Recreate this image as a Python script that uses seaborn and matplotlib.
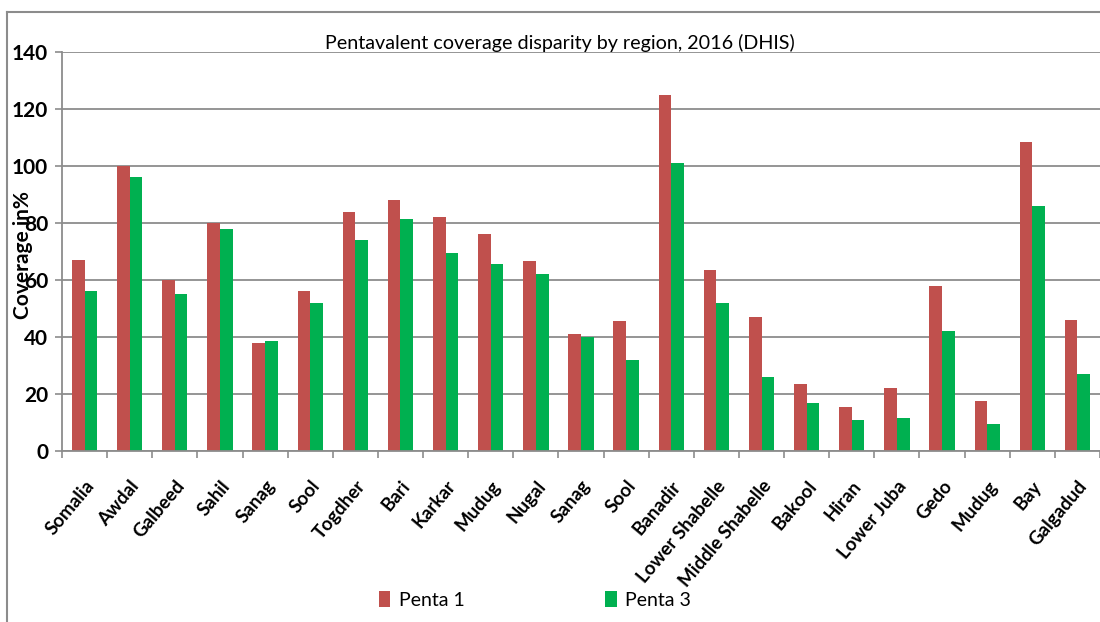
import matplotlib
matplotlib.use("Agg")
import matplotlib.pyplot as plt
from matplotlib.lines import Line2D
import seaborn as sns
import pandas as pd
import numpy as np

regions = ["Somalia", "Awdal", "Galbeed", "Sahil", "Sanag", "Sool", "Togdher", "Bari",
           "Karkar", "Mudug", "Nugal", "Sanag", "Sool", "Banadir", "Lower Shabelle",
           "Middle Shabelle", "Bakool", "Hiran", "Lower Juba", "Gedo", "Mudug", "Bay",
           "Galgadud"]
penta1 = [67, 100, 60, 80, 38, 56, 84, 88, 82, 76, 66.5, 41, 45.5, 125, 63.5,
          47, 23.5, 15.5, 22, 58, 17.5, 108.5, 46]
penta3 = [56, 96, 55, 78, 38.5, 52, 74, 81.5, 69.5, 65.5, 62, 40, 32, 101, 52,
          26, 17, 11, 11.5, 42, 9.5, 86, 27]
series_names = ["Penta 1", "Penta 3"]
colors = ["#C0504D", "#00B050"]
yticks = [0, 20, 40, 60, 80, 100, 120, 140]

FONT = ["Lato", "DejaVu Sans"]
plt.rcParams["font.family"] = FONT

idx = np.arange(len(regions))
df = pd.DataFrame({
    "pos": np.concatenate([idx, idx]),
    "value": penta1 + penta3,
    "series": [series_names[0]] * len(regions) + [series_names[1]] * len(regions),
})

W, H = 1100, 622
fig = plt.figure(figsize=(W / 100, H / 100), dpi=100)
ax = fig.add_axes([62 / W, 1 - 451 / H, (1100 - 62) / W, (451 - 52) / H])

sns.barplot(data=df, x="pos", y="value", hue="series", hue_order=series_names,
            palette=colors, width=0.56, gap=0, saturation=1, ax=ax, errorbar=None)

ax.set_xlim(-0.5, len(regions) - 0.5)
ax.set_ylim(0, 140)
ax.set_yticks(yticks)
ax.set_yticklabels([str(t) for t in yticks], fontsize=15, fontweight="bold")
ax.yaxis.grid(True, color="#8c8c8c", linewidth=1.3)
ax.set_axisbelow(True)

ax.set_xticks(idx)
ax.set_xticklabels(regions, rotation=50, ha="right", rotation_mode="anchor",
                   fontsize=13.5, fontweight="bold")
ax.tick_params(axis="x", which="major", length=0, pad=19)
ax.set_xticks(np.arange(-0.5, len(regions), 1.0), minor=True)
ax.tick_params(axis="x", which="minor", length=5, color="#8c8c8c", width=1.2)
ax.tick_params(axis="y", length=5, color="#8c8c8c", width=1.2, pad=5)

for s in ["top", "right"]:
    ax.spines[s].set_visible(False)
for s in ["left", "bottom"]:
    ax.spines[s].set_color("#8c8c8c")
    ax.spines[s].set_linewidth(1.3)

ax.set_xlabel("")
ax.set_ylabel("Coverage in%", fontsize=15, fontweight="bold")
ax.yaxis.set_label_coords((33 - 62) / (1100 - 62), 0.49)

ax.set_title("Pentavalent coverage disparity by region, 2016 (DHIS)", fontsize=14.2, pad=0,
             x=(560 - 62) / (1100 - 62))

handles, labels = ax.get_legend_handles_labels()
if ax.get_legend() is not None:
    ax.get_legend().remove()
fig.legend(handles, labels, loc="center", bbox_to_anchor=(535 / W, 1 - 600 / H),
           ncol=2, frameon=False, fontsize=14, handlelength=0.6, handleheight=0.85,
           handletextpad=0.45, columnspacing=7.2)

# outer chart frame
fig.add_artist(Line2D([7 / W, 7 / W], [1 - 12 / H, 0], transform=fig.transFigure,
                      color="#8c8c8c", linewidth=1.5))
fig.add_artist(Line2D([7 / W, 1], [1 - 12 / H, 1 - 12 / H], transform=fig.transFigure,
                      color="#8c8c8c", linewidth=1.5))

fig.savefig("out.png", dpi=100)
